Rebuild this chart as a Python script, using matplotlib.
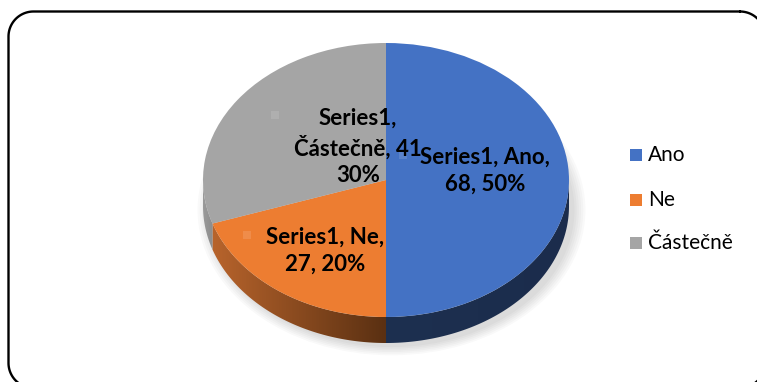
import numpy as np
import matplotlib
matplotlib.use("Agg")
import matplotlib.pyplot as plt
from matplotlib.patches import Wedge, Polygon, Rectangle
from matplotlib.colors import LinearSegmentedColormap

# ---- data ----
series_name = "Series1"
categories = ["Ano", "Ne", "Částečně"]
values = [68, 27, 41]
top_colors = ["#4472C4", "#ED7D31", "#A5A5A5"]
side_colors = [("#1d3050", "#1b2c4c"), ("#b8642c", "#5a3012"), ("#9a9a9a", "#8c8c8c")]

plt.rcParams['font.family'] = ['Lato', 'DejaVu Sans']

W_PX, H_PX = 757, 382
fig = plt.figure(figsize=(W_PX / 100, H_PX / 100), dpi=100)

# background axes in pixel coordinates (border, legend)
bg = fig.add_axes([0, 0, 1, 1])
bg.set_xlim(0, W_PX)
bg.set_ylim(H_PX, 0)
bg.axis("off")

# rounded border path
x0, y0, x1, y1, r = 8.5, 11.5, 765, 388, 25
pts = []
for (ccx, ccy, a0, a1) in [(x1 - r, y0 + r, 270, 360), (x1 - r, y1 - r, 0, 90),
                           (x0 + r, y1 - r, 90, 180), (x0 + r, y0 + r, 180, 270)]:
    t = np.radians(np.linspace(a0, a1, 30))
    pts.append(np.column_stack([ccx + r * np.cos(t), ccy + r * np.sin(t)]))
pts = np.vstack(pts + [pts[0][:1]])
bg.plot(pts[:, 0], pts[:, 1], color="black", lw=1.7, solid_capstyle="round")

# pie axes: 1 data unit = 183 px horizontally, 137 px vertically
cx, cy, rx, ry = 386, 180, 183, 137
xlim = (-1.1, 1.1)
ylim = (-1.4, 1.15)
L = (cx + xlim[0] * rx) / W_PX
Wd = (xlim[1] - xlim[0]) * rx / W_PX
B = (H_PX - (cy - ylim[0] * ry)) / H_PX
Ht = (ylim[1] - ylim[0]) * ry / H_PX
ax = fig.add_axes([L, B, Wd, Ht])
ax.set_xlim(*xlim)
ax.set_ylim(*ylim)
ax.set_aspect("auto")
ax.axis("off")

depth = 26 / ry
total = float(sum(values))

# slice angles: start at 12 o'clock, clockwise
angles = []
start = 90.0
for v in values:
    span = 360.0 * v / total
    angles.append((start - span, start))
    start -= span

# soft shadow under the pie
for k in range(6):
    sh = Wedge((0.03, -depth - 0.03), 1.0 + 0.012 * k, 0, 360,
               facecolor="black", alpha=0.025, edgecolor="none")
    ax.add_patch(sh)

# sides (front half only: 180..360 deg)
for (t1, t2), (c_light, c_dark) in zip(angles, side_colors):
    a1 = t1 % 360
    a2 = a1 + (t2 - t1)
    segs = []
    for lo, hi in [(180, 360), (540, 720), (-180, 0)]:
        s, e = max(a1, lo), min(a2, hi)
        if e > s:
            segs.append((s, e))
    for s, e in segs:
        t = np.radians(np.linspace(s, e, 120))
        top = np.column_stack([np.cos(t), np.sin(t)])
        bot = np.column_stack([np.cos(t[::-1]), np.sin(t[::-1]) - depth])
        poly = Polygon(np.vstack([top, bot]), closed=True,
                       facecolor="none", edgecolor="none")
        ax.add_patch(poly)
        xs = top[:, 0]
        cmap = LinearSegmentedColormap.from_list("g", [c_light, c_dark])
        grad = np.linspace(0, 1, 256).reshape(1, -1)
        im = ax.imshow(grad, cmap=cmap, aspect="auto",
                       extent=(xs.min(), xs.max(), -1.0 - depth - 0.05, 0.1),
                       interpolation="bilinear", zorder=2)
        im.set_clip_path(poly)

# top face
for (t1, t2), col in zip(angles, top_colors):
    ax.add_patch(Wedge((0, 0), 1.0, t1, t2, facecolor=col,
                       edgecolor="none", zorder=3))

# data labels
label_font = dict(fontsize=16, fontweight="bold", color="black",
                  ha="center", va="center", linespacing=1.33, zorder=5)
pct = [round(100 * v / total) for v in values]
lbl_pos = [((485 - cx) / rx, (cy - 171) / ry),
           ((325 - cx) / rx, (cy - 251) / ry),
           ((358 - cx) / rx, (cy - 147) / ry)]
lbl_texts = [f"{series_name}, {categories[0]},\n{values[0]}, {pct[0]}%",
             f"{series_name}, {categories[1]},\n{values[1]}, {pct[1]}%",
             f"{series_name},\n{categories[2]}, {values[2]}\n{pct[2]}%"]
key_pos = [((403 - cx) / rx, (cy - 155) / ry),
           ((247 - cx) / rx, (cy - 235) / ry),
           ((275 - cx) / rx, (cy - 115) / ry)]
for (kx, ky), col in zip(key_pos, top_colors):
    ax.add_patch(Rectangle((kx - 4 / rx, ky - 4 / ry), 8 / rx, 8 / ry,
                           facecolor="white", alpha=0.12, edgecolor="none", zorder=4))
for (px, py), txt in zip(lbl_pos, lbl_texts):
    ax.text(px, py, txt, **label_font)

# legend (manual, pixel coordinates)
leg_y = [155, 200, 243]
for yy, col, cat in zip(leg_y, top_colors, categories):
    bg.add_patch(Rectangle((630, yy - 6), 12, 12, facecolor=col, edgecolor="none"))
    bg.text(648, yy, cat, fontsize=15, va="center", ha="left", color="black")

fig.savefig("out.png", dpi=100)
